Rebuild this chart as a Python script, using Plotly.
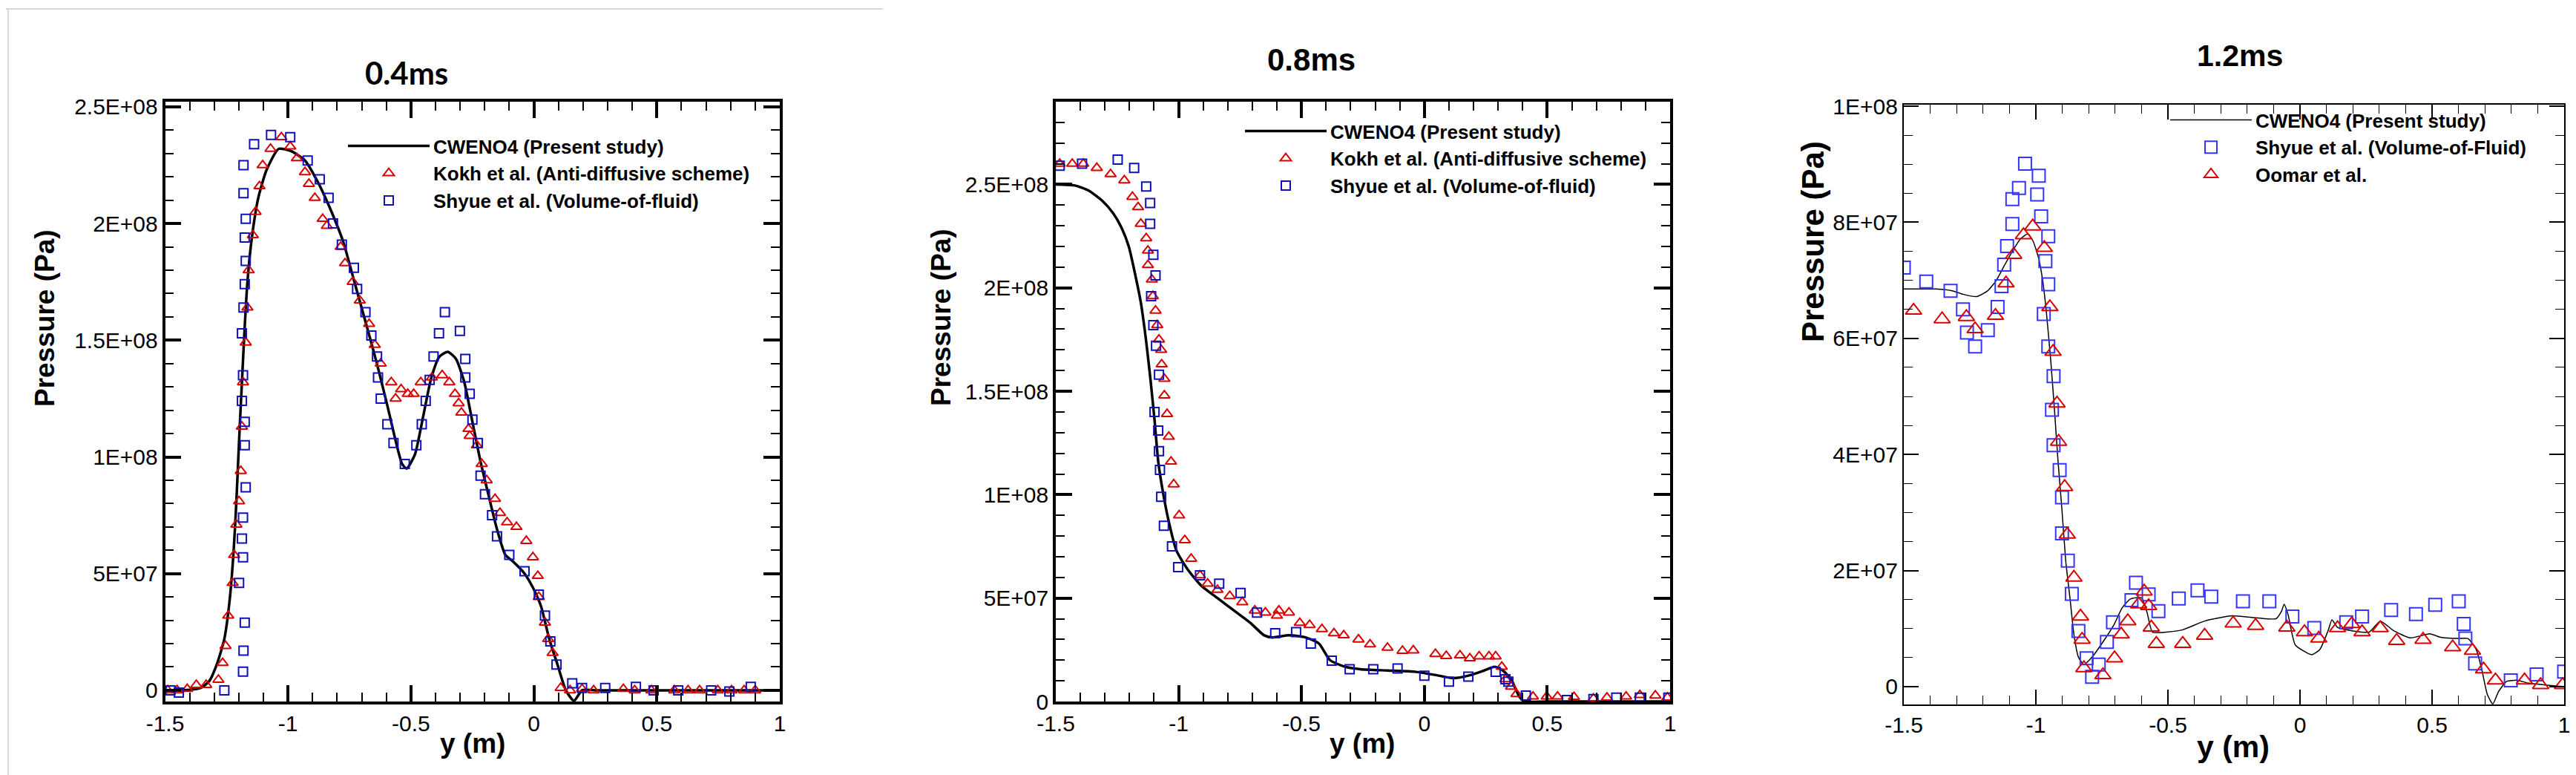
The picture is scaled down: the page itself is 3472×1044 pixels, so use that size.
import plotly.graph_objects as go

# ---------------- data ----------------
# Panel 1 : 0.4 ms
p1_cweno_x = [-1.5, -1.40, -1.355, -1.32, -1.29, -1.259, -1.237, -1.221, -1.21, -1.199, -1.1875, -1.176, -1.165,
              -1.147, -1.121, -1.087, -1.038, -0.987, -0.931, -0.875, -0.819, -0.775, -0.73, -0.685, -0.641, -0.596,
              -0.5625, -0.536, -0.518, -0.484, -0.451, -0.417, -0.384, -0.35, -0.317, -0.283, -0.25, -0.217, -0.183,
              -0.15, -0.116, -0.083, -0.038, -0.004, 0.029, 0.0625, 0.096, 0.13, 0.163, 0.196, 0.25, 1.0]
p1_cweno_y = [0, 0.2e6, 1e6, 4e6, 11e6, 22e6, 39e6, 60e6, 81e6, 107e6, 132e6, 156e6, 175e6,
              194e6, 211e6, 223e6, 232e6, 231e6, 227e6, 217e6, 204e6, 192e6, 175e6, 158e6, 141e6, 122e6,
              107e6, 97e6, 95e6, 101e6, 117e6, 134e6, 143e6, 145e6, 142e6, 132e6, 115e6, 98e6, 83e6,
              69e6, 58e6, 55e6, 50e6, 44e6, 36e6, 22e6, 11e6, 0, -4.5e6, 0, 0, 0]

p1_kokh_x = [-1.489, -1.451, -1.41, -1.373, -1.333, -1.283, -1.266, -1.254, -1.243, -1.225, -1.219, -1.21, -1.199,
             -1.192, -1.1875, -1.183, -1.172, -1.165, -1.16, -1.143, -1.132, -1.116, -1.103, -1.071, -1.027, -0.991,
             -0.964, -0.931, -0.915, -0.891, -0.859, -0.842, -0.786, -0.768, -0.737, -0.708, -0.67, -0.647, -0.623,
             -0.58, -0.5625, -0.54, -0.513, -0.489, -0.46, -0.415, -0.373, -0.344, -0.321, -0.306, -0.295, -0.266,
             -0.261, -0.232, -0.212, -0.192, -0.158, -0.138, -0.109, -0.071, -0.031, -0.004, 0.016, 0.02, 0.045,
             0.058, 0.076, 0.109, 0.147, 0.196, 0.243, 0.364, 0.41, 0.478, 0.571, 0.627, 0.674, 0.748, 0.804,
             0.855, 0.9]
p1_kokh_y = [0, 0, 0.6e6, 2.3e6, 2.3e6, 4.5e6, 11.7e6, 19e6, 32e6, 46e6, 58e6, 71e6, 81e6,
             94e6, 113e6, 132e6, 149e6, 164e6, 180e6, 195e6, 205e6, 216e6, 225e6, 232e6, 237e6, 233e6,
             228e6, 222e6, 217e6, 211e6, 202e6, 199e6, 190e6, 183e6, 175e6, 167e6, 157e6, 148e6, 140e6,
             132e6, 125e6, 129e6, 127e6, 127e6, 132e6, 134e6, 135e6, 132e6, 127e6, 123e6, 119e6, 112e6,
             109e6, 105e6, 97e6, 90e6, 82e6, 76e6, 72e6, 70e6, 64e6, 57e6, 49e6, 40e6, 29e6,
             22e6, 16e6, 1e6, 0, 0.6e6, 0, 0.6e6, 0, 0, 0, 0, 0, 0, 0,
             0, 0]

p1_shyue_x = [-1.478, -1.444, -1.259, -1.183, -1.181, -1.176, -1.172, -1.183, -1.1875, -1.183, -1.199, -1.176,
              -1.176, -1.1875, -1.183, -1.1875, -1.181, -1.176, -1.172, -1.176, -1.172, -1.181, -1.181, -1.138,
              -1.069, -0.991, -0.92, -0.871, -0.835, -0.817, -0.781, -0.732, -0.719, -0.685, -0.661, -0.638,
              -0.634, -0.623, -0.596, -0.571, -0.525, -0.478, -0.456, -0.44, -0.424, -0.408, -0.386, -0.362,
              -0.301, -0.279, -0.279, -0.261, -0.25, -0.228, -0.217, -0.199, -0.17, -0.15, -0.1, -0.038, 0.02,
              0.045, 0.067, 0.092, 0.156, 0.196, 0.29, 0.415, 0.487, 0.587, 0.721, 0.795, 0.882]
p1_shyue_y = [0, -1e6, 0, 8e6, 17e6, 29e6, 87e6, 74e6, 65e6, 57e6, 46e6, 105e6,
              115e6, 124e6, 135e6, 153e6, 164e6, 174e6, 184e6, 194e6, 202e6, 213e6, 225e6, 234e6,
              238e6, 237e6, 227e6, 219e6, 211e6, 200e6, 191e6, 181e6, 172e6, 162e6, 152e6, 143e6,
              134e6, 125e6, 114e6, 106e6, 97e6, 105e6, 114e6, 124e6, 133e6, 143e6, 153e6, 162e6,
              154e6, 142e6, 134e6, 127e6, 116e6, 106e6, 92e6, 84e6, 75e6, 66e6, 58e6, 51e6, 41e6,
              32e6, 21e6, 11e6, 3e6, 1e6, 1e6, 1.5e6, 0, 0, 0, -0.5e6, 1.5e6]

# Panel 2 : 0.8 ms
p2_cweno_x = [-1.5, -1.422, -1.366, -1.31, -1.266, -1.232, -1.203, -1.176, -1.154, -1.132, -1.114, -1.098, -1.083,
              -1.065, -1.042, -1.009, -0.964, -0.908, -0.842, -0.775, -0.708, -0.652, -0.618, -0.551, -0.484,
              -0.429, -0.384, -0.328, -0.261, -0.15, -0.038, 0.051, 0.118, 0.185, 0.241, 0.286, 0.319, 0.353,
              0.386, 0.408, 0.5, 1.0]
p2_cweno_y = [250e6, 249.5e6, 247e6, 242e6, 236e6, 229e6, 220e6, 206e6, 193e6, 174e6, 155e6, 136e6, 116e6,
              102e6, 88e6, 73e6, 64e6, 56e6, 50e6, 44e6, 38e6, 32e6, 31e6, 32e6, 31e6,
              28e6, 20e6, 17e6, 15.6e6, 15e6, 14.4e6, 12.7e6, 11.3e6, 12.7e6, 14.9e6, 16.8e6, 15e6, 10.8e6,
              2.4e6, 0, 0, 0]

p2_kokh_x = [-1.484, -1.433, -1.388, -1.333, -1.277, -1.221, -1.188, -1.165, -1.154, -1.132, -1.125, -1.125,
             -1.109, -1.105, -1.094, -1.087, -1.08, -1.071, -1.069, -1.058, -1.058, -1.047, -1.04, -1.031, -1.02,
             -0.998, -0.975, -0.949, -0.913, -0.882, -0.842, -0.792, -0.741, -0.69, -0.647, -0.6, -0.592, -0.551,
             -0.507, -0.467, -0.417, -0.368, -0.328, -0.268, -0.221, -0.15, -0.089, -0.045, 0.045, 0.089, 0.145,
             0.185, 0.223, 0.263, 0.29, 0.315, 0.33, 0.353, 0.375, 0.442, 0.498, 0.542, 0.609, 0.688, 0.743,
             0.821, 0.877, 0.94, 0.989]
p2_kokh_y = [260e6, 260e6, 260e6, 258e6, 255e6, 252e6, 244e6, 239e6, 231e6, 224e6, 218e6, 211e6,
             204e6, 196e6, 189e6, 182e6, 175e6, 170e6, 163e6, 156e6, 148e6, 139e6, 128e6, 116e6, 105e6,
             90e6, 78e6, 69e6, 61e6, 57e6, 54e6, 51e6, 48e6, 44e6, 43e6, 41.5e6, 44e6, 43e6,
             38e6, 37e6, 35e6, 33e6, 32e6, 30e6, 27.6e6, 26e6, 24.5e6, 24.7e6, 23e6, 22e6, 22.3e6,
             20.9e6, 21.8e6, 21.8e6, 21.8e6, 16.8e6, 10.8e6, 7.2e6, 3.6e6, 2.4e6, 2.4e6, 2.4e6, 2.2e6, 1.4e6, 1.9e6,
             2.4e6, 3.1e6, 2.9e6, 1.9e6]

p2_shyue_x = [-1.484, -1.393, -1.248, -1.181, -1.132, -1.116, -1.116, -1.103, -1.094, -1.112, -1.103, -1.092,
              -1.08, -1.098, -1.083, -1.08, -1.076, -1.071, -1.06, -1.027, -1.002, -0.913, -0.835, -0.748, -0.681,
              -0.607, -0.522, -0.462, -0.377, -0.304, -0.208, -0.109, 0.0, 0.1, 0.179, 0.29, 0.33, 0.342, 0.413,
              0.58, 0.688, 0.781, 0.877, 0.993]
p2_shyue_y = [259e6, 260e6, 262e6, 258e6, 249e6, 241e6, 231e6, 216e6, 206e6, 196e6, 182e6, 172e6,
              158e6, 140e6, 131e6, 121e6, 112e6, 99e6, 85e6, 75e6, 65e6, 61e6, 57e6, 52.5e6, 43e6,
              33e6, 33.6e6, 28e6, 19.7e6, 15.6e6, 15.6e6, 16e6, 12.5e6, 9.6e6, 12e6, 14.4e6, 10.8e6, 9.6e6, 2.9e6,
              0.7e6, 1.2e6, 1.9e6, 1.9e6, 1.9e6]

# Panel 3 : 1.2 ms
p3_cweno_x = [-1.5, -1.379, -1.317, -1.276, -1.224, -1.182, -1.151, -1.12, -1.089, -1.057, -1.03, -1.01, -0.989,
              -0.974, -0.96, -0.943, -0.929, -0.916, -0.901, -0.887, -0.87, -0.856, -0.839, -0.818, -0.787, -0.746,
              -0.704, -0.673, -0.642, -0.6, -0.579, -0.559, -0.507, -0.444, -0.361, -0.257, -0.174, -0.091, -0.07,
              -0.06, -0.045, -0.018, 0.044, 0.075, 0.106, 0.121, 0.142, 0.2, 0.262, 0.304, 0.356, 0.418, 0.491,
              0.532, 0.595, 0.636, 0.667, 0.688, 0.709, 0.73, 0.751, 0.782, 0.823, 0.865, 0.927, 1.0]
p3_cweno_y = [68.5e6, 68.5e6, 68.2e6, 67.6e6, 67.2e6, 68.2e6, 69.9e6, 72.5e6, 75e6, 77.2e6, 78e6, 76.7e6, 73.7e6,
              69.9e6, 64.4e6, 55.8e6, 47.3e6, 38.8e6, 30.3e6, 21.7e6, 14.9e6, 9e6, 5.1e6, 3.8e6, 5.1e6, 7.7e6,
              10.7e6, 13.6e6, 15.1e6, 15.3e6, 12.8e6, 9.4e6, 9.4e6, 9.8e6, 11.3e6, 12.2e6, 11.9e6, 11.7e6, 13e6,
              14.2e6, 12.4e6, 7.2e6, 5.5e6, 6.4e6, 9.6e6, 11.5e6, 10.2e6, 9.6e6, 9.4e6, 11.3e6, 9.6e6, 8.4e6, 9.1e6,
              8.5e6, 8.3e6, 8.3e6, 6.4e6, 3e6, -1.3e6, -3e6, -0.9e6, 0.9e6, 1.1e6, 0.6e6, 0.3e6, 0]

p3_shyue_x = [-1.5, -1.415, -1.323, -1.276, -1.261, -1.23, -1.182, -1.145, -1.13, -1.12, -1.109, -1.089, -1.089,
              -1.064, -1.041, -0.995, -0.989, -0.98, -0.953, -0.964, -0.953, -0.97, -0.953, -0.933, -0.939, -0.933,
              -0.91, -0.901, -0.901, -0.879, -0.864, -0.839, -0.808, -0.787, -0.762, -0.731, -0.708, -0.638, -0.621,
              -0.573, -0.536, -0.459, -0.388, -0.336, -0.216, -0.116, -0.029, 0.054, 0.175, 0.235, 0.345, 0.439,
              0.512, 0.601, 0.62, 0.626, 0.663, 0.798, 0.896, 1.0]
p3_shyue_y = [72.2e6, 69.8e6, 68.2e6, 65e6, 61e6, 58.6e6, 61.4e6, 65.4e6, 69e6, 72.7e6, 75.9e6, 79.7e6, 84e6,
              85.9e6, 90.1e6, 84.8e6, 88e6, 81e6, 77.6e6, 73.3e6, 69.3e6, 64.2e6, 58.6e6, 53.5e6, 47.7e6, 41.6e6,
              37.3e6, 32.6e6, 26.4e6, 21.7e6, 16e6, 9.6e6, 4.9e6, 1.7e6, 3.8e6, 7.7e6, 11.1e6, 14.9e6, 17.9e6,
              15.9e6, 13e6, 15.2e6, 16.6e6, 15.5e6, 14.7e6, 14.7e6, 12.1e6, 10.1e6, 11.1e6, 12.1e6, 13.2e6, 12.5e6,
              14.1e6, 14.7e6, 10.8e6, 8.3e6, 4e6, 1.1e6, 2.1e6, 2.6e6]

p3_oomar_x = [-1.463, -1.355, -1.263, -1.23, -1.153, -1.113, -1.084, -1.047, -1.012, -0.968, -0.947, -0.935,
              -0.92, -0.914, -0.891, -0.881, -0.856, -0.831, -0.825, -0.818, -0.746, -0.702, -0.677, -0.652, -0.611,
              -0.59, -0.573, -0.563, -0.544, -0.444, -0.361, -0.253, -0.168, -0.05, 0.017, 0.071, 0.142, 0.196,
              0.235, 0.304, 0.366, 0.466, 0.578, 0.653, 0.695, 0.74, 0.85, 0.911, 0.994]
p3_oomar_y = [64.8e6, 63.3e6, 63.7e6, 61.6e6, 63.9e6, 69.5e6, 74.4e6, 77.8e6, 79.3e6, 75.6e6, 65.4e6, 57.7e6,
              48.8e6, 42.2e6, 34.4e6, 26.2e6, 18.8e6, 12.1e6, 8.1e6, 3.2e6, 2e6, 4.9e6, 9e6, 11.3e6, 14.2e6,
              16.4e6, 13.9e6, 10.2e6, 7.4e6, 7.4e6, 8.8e6, 10.9e6, 10.5e6, 10.2e6, 9.4e6, 8.3e6, 10.1e6, 10.8e6,
              9.4e6, 10.1e6, 7.9e6, 8.1e6, 6.8e6, 6.2e6, 3e6, 1.1e6, 1.1e6, 0.3e6, 0.3e6]

titles = ["0.4ms", "0.8ms", "1.2ms"]
# tick labels: the library's default text for each tick -> the text shown in the figure
x_default_labels = ["\u22121.5", "\u22121", "\u22120.5", "-1.5", "-1", "-0.5"]
x_ticktext = ["-1.5", "-1", "-0.5", "-1.5", "-1", "-0.5"]
y12_default_labels = ["0e+0", "5e+7", "1e+8", "1.5e+8", "2e+8", "2.5e+8"]
y12_ticktext = ["0", "5E+07", "1E+08", "1.5E+08", "2E+08", "2.5E+08"]
y3_default_labels = ["0e+0", "2e+7", "4e+7", "6e+7", "8e+7", "1e+8"]
y3_ticktext = ["0", "2E+07", "4E+07", "6E+07", "8E+07", "1E+08"]

name_cweno = "CWENO4 (Present study)"
name_kokh = "Kokh et al. (Anti-diffusive scheme)"
name_shyue12 = "Shyue et al. (Volume-of-fluid)"
name_shyue3 = "Shyue et al. (Volume-of-Fluid)"
name_oomar = "Oomar et al."

# ---------------- styling ----------------
W, H = 3472, 1044
RED = "#d90000"
BLUE12 = "#1010b8"
BLUE3 = "#3535ff"
FONT = "Liberation Sans"


def px_x(v):
    return v / W


def px_y(v):
    return 1 - v / H


fig = go.Figure()

# panel 1
fig.add_trace(go.Scatter(x=p1_cweno_x, y=p1_cweno_y, mode="lines", name=name_cweno,
                         line=dict(color="black", width=3.5, shape="spline", smoothing=0.6),
                         xaxis="x", yaxis="y", legend="legend"))
fig.add_trace(go.Scatter(x=p1_kokh_x, y=p1_kokh_y, mode="markers", name=name_kokh,
                         marker=dict(symbol="triangle-up-open", size=13, color=RED, line=dict(width=2, color=RED)),
                         xaxis="x", yaxis="y", legend="legend"))
fig.add_trace(go.Scatter(x=p1_shyue_x, y=p1_shyue_y, mode="markers", name=name_shyue12,
                         marker=dict(symbol="square-open", size=12, color=BLUE12, line=dict(width=2, color=BLUE12)),
                         xaxis="x", yaxis="y", legend="legend"))
# panel 2
fig.add_trace(go.Scatter(x=p2_cweno_x, y=p2_cweno_y, mode="lines", name=name_cweno,
                         line=dict(color="black", width=3.5, shape="spline", smoothing=0.6),
                         xaxis="x2", yaxis="y2", legend="legend2"))
fig.add_trace(go.Scatter(x=p2_kokh_x, y=p2_kokh_y, mode="markers", name=name_kokh,
                         marker=dict(symbol="triangle-up-open", size=13, color=RED, line=dict(width=2, color=RED)),
                         xaxis="x2", yaxis="y2", legend="legend2"))
fig.add_trace(go.Scatter(x=p2_shyue_x, y=p2_shyue_y, mode="markers", name=name_shyue12,
                         marker=dict(symbol="square-open", size=12, color=BLUE12, line=dict(width=2, color=BLUE12)),
                         xaxis="x2", yaxis="y2", legend="legend2"))
# panel 3
fig.add_trace(go.Scatter(x=p3_cweno_x, y=p3_cweno_y, mode="lines", name=name_cweno,
                         line=dict(color="black", width=1.5, shape="spline", smoothing=0.5),
                         xaxis="x3", yaxis="y3", legend="legend3"))
fig.add_trace(go.Scatter(x=p3_shyue_x, y=p3_shyue_y, mode="markers", name=name_shyue3,
                         marker=dict(symbol="square-open", size=17, color=BLUE3, line=dict(width=2, color=BLUE3)),
                         xaxis="x3", yaxis="y3", legend="legend3"))
fig.add_trace(go.Scatter(x=p3_oomar_x, y=p3_oomar_y, mode="markers", name=name_oomar,
                         marker=dict(symbol="triangle-up-open", size=19, color=RED, line=dict(width=2, color=RED)),
                         xaxis="x3", yaxis="y3", legend="legend3"))

# tick-only overlay axes (one invisible copy of each CWENO4 curve places them in the figure)
for cx, cy, ax_id in [(p1_cweno_x, p1_cweno_y, "4"), (p2_cweno_x, p2_cweno_y, "5"), (p3_cweno_x, p3_cweno_y, "6")]:
    fig.add_trace(go.Scatter(x=cx, y=cy, mode="lines", line=dict(color="rgba(0,0,0,0)", width=1),
                             showlegend=False, hoverinfo="skip", xaxis="x" + ax_id, yaxis="y" + ax_id))

x_alias = dict(zip(x_default_labels, x_ticktext))
y12_alias = dict(zip(y12_default_labels, y12_ticktext))
y3_alias = dict(zip(y3_default_labels, y3_ticktext))


def axis_common(lw, tw, tl, mtw, mtl, dt, mdt):
    return dict(ticks="inside", ticklen=tl, tickwidth=tw, tickcolor="black",
                tickmode="linear", tick0=0, dtick=dt,
                showline=True, linecolor="black", linewidth=lw, mirror="allticks", showgrid=False,
                zeroline=False,
                tickfont=dict(family=FONT, size=30, color="black"),
                minor=dict(dtick=mdt, ticks="inside", ticklen=mtl, tickwidth=mtw, tickcolor="black"))


def tick_axis(overlay, anchor, rng, lw, tw, tl, mtw, mtl, dt, mdt, side):
    return dict(overlaying=overlay, anchor=anchor, range=rng, side=side,
                ticks="inside", ticklen=tl, tickwidth=tw, tickcolor="black",
                tick0=0, dtick=dt, showticklabels=False,
                showline=True, linecolor="black", linewidth=lw, mirror="allticks", showgrid=False,
                zeroline=False,
                minor=dict(dtick=mdt, ticks="inside", ticklen=mtl, tickwidth=mtw, tickcolor="black"))


dom_x1 = [px_x(214.5), px_x(1043)]
dom_x2 = [px_x(1415), px_x(2243)]
dom_x3 = [px_x(2558), px_x(3448)]
dom_y12 = [px_y(937), px_y(129)]
dom_y3 = [px_y(941), px_y(133)]

r_x = [-1.5, 1]
r_y1 = [-4.8e6, 2.522e8]
r_y2 = [0, 2.9e8]
r_y3 = [-3.07e6, 1.0026e8]

legend_font = dict(family=FONT, size=26, color="black", weight="bold")

fig.update_layout(
    template="none",
    width=W, height=H, margin=dict(l=0, r=0, t=0, b=0, autoexpand=False),
    paper_bgcolor="white", plot_bgcolor="rgba(0,0,0,0)", showlegend=True,
    xaxis=dict(domain=dom_x1, anchor="y", range=r_x, labelalias=x_alias,
               **axis_common(3.5, 3.5, 22, 2, 12, 0.5, 0.1)),
    yaxis=dict(domain=dom_y12, anchor="x", range=r_y1, tickformat="~e", labelalias=y12_alias,
               **axis_common(3.5, 3.5, 22, 2, 12, 5e7, 1e7)),
    xaxis2=dict(domain=dom_x2, anchor="y2", range=r_x, labelalias=x_alias,
                **axis_common(3.5, 3.5, 22, 2, 12, 0.5, 0.1)),
    yaxis2=dict(domain=dom_y12, anchor="x2", range=r_y2, tickformat="~e", labelalias=y12_alias,
                **axis_common(3.5, 3.5, 22, 2, 12, 5e7, 1e7)),
    xaxis3=dict(domain=dom_x3, anchor="y3", range=r_x, labelalias=x_alias,
                **axis_common(2.2, 2.2, 20, 1.4, 12, 0.5, 0.1)),
    yaxis3=dict(domain=dom_y3, anchor="x3", range=r_y3, tickformat="~e", labelalias=y3_alias,
                **axis_common(2.2, 2.2, 20, 1.4, 12, 2e7, 5e6)),
    xaxis4=tick_axis("x", "y4", r_x, 3.5, 3.5, 22, 2, 12, 0.5, 0.1, "bottom"),
    yaxis4=tick_axis("y", "x4", r_y1, 3.5, 3.5, 22, 2, 12, 5e7, 1e7, "left"),
    xaxis5=tick_axis("x2", "y5", r_x, 3.5, 3.5, 22, 2, 12, 0.5, 0.1, "bottom"),
    yaxis5=tick_axis("y2", "x5", r_y2, 3.5, 3.5, 22, 2, 12, 5e7, 1e7, "left"),
    xaxis6=tick_axis("x3", "y6", r_x, 2.2, 2.2, 20, 1.4, 12, 0.5, 0.1, "bottom"),
    yaxis6=tick_axis("y3", "x6", r_y3, 2.2, 2.2, 20, 1.4, 12, 2e7, 5e6, "left"),
    legend=dict(x=px_x(456), y=px_y(165), xanchor="left", yanchor="top", font=legend_font,
                bgcolor="rgba(0,0,0,0)", itemwidth=110),
    legend2=dict(x=px_x(1665), y=px_y(145), xanchor="left", yanchor="top", font=legend_font,
                 bgcolor="rgba(0,0,0,0)", itemwidth=110),
    legend3=dict(x=px_x(2912), y=px_y(130), xanchor="left", yanchor="top", font=legend_font,
                 bgcolor="rgba(0,0,0,0)", itemwidth=110),
)

annotations = []
# panel titles
title_pos = [(540, 90, "Lato", 42), (1759, 72, FONT, 42), (3011, 67, FONT, 41)]
for t, (xx, yy, fam, sz) in zip(titles, title_pos):
    annotations.append(dict(text=t, x=px_x(xx), y=px_y(yy), xref="paper", yref="paper", showarrow=False,
                            xanchor="center", yanchor="middle",
                            font=dict(family=fam, size=sz, color="black", weight="bold")))
# y-axis titles
for (xx, yy, sz) in [(53, 421, 37), (1260, 420, 37), (2435, 318, 42)]:
    annotations.append(dict(text="Pressure (Pa)", x=px_x(xx), y=px_y(yy), xref="paper", yref="paper",
                            showarrow=False, textangle=-90, xanchor="center", yanchor="middle",
                            font=dict(family=FONT, size=sz, color="black", weight="bold")))
# x-axis titles
for (xx, yy, sz) in [(629, 993, 37), (1828, 993, 37), (3002, 998, 41)]:
    annotations.append(dict(text="y (m)", x=px_x(xx), y=px_y(yy), xref="paper", yref="paper",
                            showarrow=False, xanchor="center", yanchor="middle",
                            font=dict(family=FONT, size=sz, color="black", weight="bold")))
fig.update_layout(annotations=annotations)

# faint frame around the first panel image
fig.update_layout(shapes=[
    dict(type="line", xref="paper", yref="paper", x0=0, x1=px_x(1182), y0=px_y(4), y1=px_y(4),
         line=dict(color="#d8d8d8", width=2), layer="below"),
    dict(type="line", xref="paper", yref="paper", x0=px_x(3), x1=px_x(3), y0=0, y1=px_y(4),
         line=dict(color="#d8d8d8", width=2), layer="below"),
])

fig.write_html("out.html")
